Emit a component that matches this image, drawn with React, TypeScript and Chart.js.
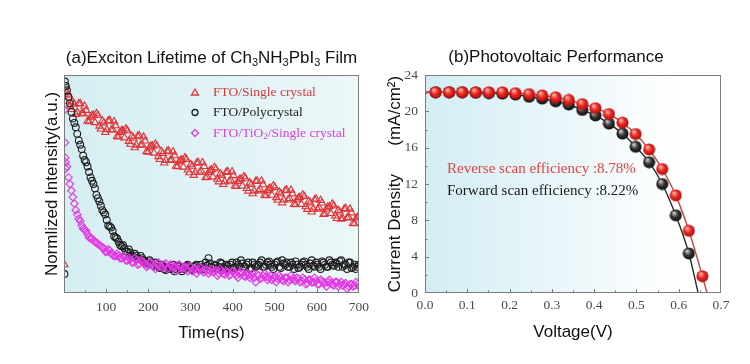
import React, { useEffect, useRef } from "react";
import { Chart, registerables } from "chart.js";

Chart.register(...registerables);

const SANS = "'Liberation Sans', Arial, sans-serif";
const SERIF = "'Liberation Serif', 'Times New Roman', serif";

// ---------- (a) exciton lifetime ----------
const TITLE_A = "(a)Exciton Lifetime of Ch_3NH_3PbI_3 Film";
const X_TITLE_A = "Time(ns)";
const Y_TITLE_A = "Normlized Intensity(a.u.)";
const LEGEND_A = ["FTO/Single crystal", "FTO/Polycrystal", "FTO/TiO_2/Single crystal"];

const TIME_NS = [
  7, 14, 21, 28, 35, 42, 49, 56, 63, 70, 77, 84, 91, 98, 105, 112, 119, 126, 133, 140,
  147, 154, 161, 168, 175, 182, 189, 196, 203, 210, 217, 224, 231, 238, 245, 252, 259, 266, 273, 280,
  287, 294, 301, 308, 315, 322, 329, 336, 343, 350, 357, 364, 371, 378, 385, 392, 399, 406, 413, 420,
  427, 434, 441, 448, 455, 462, 469, 476, 483, 490, 497, 504, 511, 518, 525, 532, 539, 546, 553, 560,
  567, 574, 581, 588, 595, 602, 609, 616, 623, 630, 637, 644, 651, 658, 665, 672, 679, 686, 693, 700,
];
const TIME_NS_MID = [
  3.5, 10.5, 17.5, 24.5, 31.5, 38.5, 45.5, 52.5, 59.5, 66.5,
  73.5, 80.5, 87.5, 94.5, 101.5, 108.5, 115.5, 122.5, 129.5, 136.5,
  143.5, 150.5, 157.5, 164.5, 171.5, 178.5, 185.5, 192.5, 199.5, 206.5,
  213.5, 220.5, 227.5, 234.5, 241.5, 248.5, 255.5, 262.5, 269.5, 276.5,
  283.5, 290.5, 297.5, 304.5, 311.5, 318.5, 325.5, 332.5, 339.5, 346.5,
  353.5, 360.5, 367.5, 374.5, 381.5, 388.5, 395.5, 402.5, 409.5, 416.5,
  423.5, 430.5, 437.5, 444.5, 451.5, 458.5, 465.5, 472.5, 479.5, 486.5,
  493.5, 500.5, 507.5, 514.5, 521.5, 528.5, 535.5, 542.5, 549.5, 556.5,
  563.5, 570.5, 577.5, 584.5, 591.5, 598.5, 605.5, 612.5, 619.5, 626.5,
  633.5, 640.5, 647.5, 654.5, 661.5, 668.5, 675.5, 682.5, 689.5, 696.5,
];

const SINGLE_CRYSTAL = [
  0.919, 0.858, 0.876, 0.82, 0.869, 0.823, 0.857, 0.789, 0.807, 0.815,
  0.823, 0.766, 0.789, 0.737, 0.79, 0.748, 0.786, 0.719, 0.737, 0.745,
  0.753, 0.696, 0.719, 0.667, 0.72, 0.678, 0.716, 0.649, 0.667, 0.675,
  0.683, 0.626, 0.649, 0.597, 0.65, 0.608, 0.648, 0.582, 0.602, 0.611,
  0.62, 0.565, 0.589, 0.54, 0.596, 0.553, 0.598, 0.529, 0.554, 0.565,
  0.576, 0.522, 0.547, 0.498, 0.554, 0.511, 0.556, 0.491, 0.512, 0.523,
  0.534, 0.48, 0.505, 0.456, 0.512, 0.469, 0.514, 0.449, 0.47, 0.481,
  0.492, 0.438, 0.463, 0.414, 0.47, 0.427, 0.472, 0.407, 0.428, 0.439,
  0.45, 0.396, 0.421, 0.372, 0.428, 0.385, 0.425, 0.361, 0.386, 0.397,
  0.408, 0.354, 0.379, 0.339, 0.385, 0.345, 0.385, 0.32, 0.34, 0.35,
];
const SINGLE_CRYSTAL_MID = [
  0.88, 0.909, 0.842, 0.866, 0.83, 0.869, 0.823, 0.838, 0.786, 0.814,
  0.782, 0.815, 0.753, 0.781, 0.749, 0.792, 0.75, 0.768, 0.716, 0.744,
  0.712, 0.745, 0.683, 0.711, 0.679, 0.722, 0.68, 0.698, 0.646, 0.674,
  0.642, 0.675, 0.613, 0.641, 0.609, 0.652, 0.611, 0.63, 0.58, 0.609,
  0.578, 0.613, 0.552, 0.582, 0.553, 0.599, 0.56, 0.581, 0.531, 0.562,
  0.533, 0.569, 0.51, 0.54, 0.511, 0.557, 0.518, 0.539, 0.489, 0.52,
  0.491, 0.527, 0.468, 0.498, 0.469, 0.515, 0.476, 0.497, 0.447, 0.478,
  0.449, 0.485, 0.426, 0.456, 0.427, 0.473, 0.434, 0.455, 0.405, 0.436,
  0.407, 0.443, 0.384, 0.414, 0.385, 0.431, 0.392, 0.413, 0.363, 0.394,
  0.365, 0.401, 0.342, 0.372, 0.342, 0.388, 0.348, 0.368, 0.318, 0.348,
];

const POLYCRYSTAL = [
  0.93, 0.87, 0.80, 0.76, 0.70, 0.66, 0.61, 0.58, 0.53, 0.50,
  0.45, 0.42, 0.38, 0.36, 0.31, 0.30, 0.26, 0.25, 0.22, 0.22,
  0.19, 0.20, 0.17, 0.18, 0.16, 0.17, 0.15, 0.14, 0.15, 0.13,
  0.14, 0.12, 0.13, 0.11, 0.12, 0.11, 0.13, 0.11, 0.12, 0.10,
  0.12, 0.13, 0.11, 0.12, 0.13, 0.11, 0.12, 0.14, 0.16, 0.12,
  0.13, 0.11, 0.14, 0.12, 0.13, 0.11, 0.14, 0.12, 0.13, 0.15,
  0.12, 0.13, 0.11, 0.14, 0.12, 0.13, 0.15, 0.12, 0.14, 0.13,
  0.11, 0.14, 0.12, 0.15, 0.13, 0.12, 0.14, 0.11, 0.13, 0.12,
  0.14, 0.13, 0.11, 0.15, 0.12, 0.13, 0.11, 0.14, 0.12, 0.15,
  0.13, 0.14, 0.12, 0.15, 0.13, 0.11, 0.14, 0.12, 0.11, 0.13,
];
const POLYCRYSTAL_MID = [
  0.95, 0.90, 0.83, 0.78, 0.73, 0.68, 0.63, 0.60, 0.555, 0.515,
  0.48, 0.435, 0.40, 0.37, 0.335, 0.305, 0.285, 0.255, 0.235, 0.215,
  0.205, 0.19, 0.185, 0.165, 0.17, 0.155, 0.16, 0.145, 0.135, 0.14,
  0.125, 0.13, 0.115, 0.12, 0.105, 0.12, 0.115, 0.10, 0.125, 0.11,
  0.11, 0.125, 0.12, 0.105, 0.125, 0.115, 0.13, 0.11, 0.125, 0.135,
  0.115, 0.125, 0.12, 0.135, 0.11, 0.125, 0.13, 0.115, 0.14, 0.12,
  0.135, 0.12, 0.14, 0.115, 0.13, 0.125, 0.14, 0.12, 0.13, 0.145,
  0.12, 0.13, 0.145, 0.115, 0.135, 0.14, 0.12, 0.13, 0.145, 0.115,
  0.13, 0.145, 0.12, 0.135, 0.125, 0.14, 0.12, 0.145, 0.13, 0.12,
  0.14, 0.125, 0.135, 0.145, 0.12, 0.13, 0.14, 0.115, 0.13, 0.12,
];

const TIO2_SINGLE = [
  0.58, 0.50, 0.44, 0.38, 0.34, 0.31, 0.29, 0.27, 0.25, 0.24,
  0.23, 0.22, 0.21, 0.19, 0.20, 0.18, 0.17, 0.18, 0.16, 0.17,
  0.15, 0.16, 0.14, 0.16, 0.13, 0.15, 0.14, 0.12, 0.14, 0.13,
  0.11, 0.14, 0.12, 0.13, 0.11, 0.13, 0.12, 0.10, 0.13, 0.11,
  0.12, 0.10, 0.12, 0.11, 0.09, 0.12, 0.10, 0.11, 0.09, 0.11,
  0.10, 0.08, 0.11, 0.09, 0.10, 0.08, 0.10, 0.09, 0.07, 0.10,
  0.08, 0.09, 0.07, 0.09, 0.05, 0.08, 0.07, 0.09, 0.06, 0.08,
  0.07, 0.05, 0.08, 0.06, 0.07, 0.05, 0.08, 0.06, 0.07, 0.05,
  0.07, 0.04, 0.06, 0.05, 0.07, 0.04, 0.06, 0.05, 0.03, 0.06,
  0.04, 0.05, 0.03, 0.05, 0.04, 0.02, 0.04, 0.03, 0.05, 0.03,
];
const TIO2_SINGLE_MID = [
  0.60, 0.53, 0.47, 0.41, 0.36, 0.33, 0.295, 0.285, 0.255, 0.25,
  0.235, 0.225, 0.215, 0.205, 0.19, 0.195, 0.175, 0.17, 0.17, 0.16,
  0.165, 0.15, 0.155, 0.14, 0.15, 0.135, 0.145, 0.135, 0.125, 0.14,
  0.12, 0.13, 0.125, 0.115, 0.135, 0.115, 0.125, 0.12, 0.11, 0.125,
  0.115, 0.11, 0.125, 0.10, 0.11, 0.105, 0.115, 0.095, 0.105, 0.10,
  0.095, 0.105, 0.09, 0.10, 0.085, 0.095, 0.085, 0.10, 0.08, 0.09,
  0.09, 0.075, 0.085, 0.08, 0.07, 0.085, 0.065, 0.08, 0.075, 0.07,
  0.06, 0.075, 0.065, 0.07, 0.055, 0.07, 0.06, 0.065, 0.055, 0.065,
  0.055, 0.06, 0.045, 0.06, 0.05, 0.055, 0.04, 0.055, 0.045, 0.05,
  0.045, 0.035, 0.05, 0.04, 0.035, 0.045, 0.03, 0.04, 0.035, 0.04,
];

// the first few readings just after excitation
const SINGLE_EARLY_T = [1, 3];
const SINGLE_EARLY = [0.13, 0.91];
const POLY_EARLY_T = [1, 2, 4];
const POLY_EARLY = [0.087, 0.97, 0.95];
const TIO2_EARLY_T = [1, 2, 3, 4];
const TIO2_EARLY = [0.84, 0.69, 0.62, 0.57];

// ---------- (b) photovoltaic J-V ----------
const TITLE_B = "(b)Photovoltaic Performance";
const X_TITLE_B = "Voltage(V)";
const Y_TITLE_B = "Current Density      (mA/cm\u00B2)";
const NOTES_B = ["Reverse scan efficiency :8.78%", "Forward scan efficiency :8.22%"];

const VOLTAGE = [
  0.025, 0.057, 0.088, 0.12, 0.151, 0.183, 0.214, 0.246, 0.277, 0.309, 0.34,
  0.372, 0.403, 0.435, 0.467, 0.498, 0.53, 0.561, 0.593, 0.624, 0.656,
];
const J_REVERSE = [
  22.1, 22.1, 22.1, 22.1, 22.1, 22.1, 22.0, 21.9, 21.75, 21.55, 21.25,
  20.8, 20.35, 19.7, 18.75, 17.5, 15.8, 13.65, 10.75, 6.85, 1.85,
];
const J_FORWARD = [
  22.1, 22.1, 22.1, 22.05, 22.0, 21.95, 21.85, 21.6, 21.4, 21.1, 20.75,
  20.15, 19.55, 18.65, 17.55, 16.1, 14.4, 12.0, 8.55, 4.35,
];
const JSC = 22.1;
const VOC_REVERSE = 0.667;
const VOC_FORWARD = 0.646;

// ---------- helpers ----------
type Seg = { t: string; sub: boolean };
function parseSegs(s: string): Seg[] {
  const out: Seg[] = [];
  const re = /_(\d)/g;
  let last = 0;
  let m: RegExpExecArray | null;
  while ((m = re.exec(s))) {
    if (m.index > last) out.push({ t: s.slice(last, m.index), sub: false });
    out.push({ t: m[1], sub: true });
    last = m.index + m[0].length;
  }
  if (last < s.length) out.push({ t: s.slice(last), sub: false });
  return out;
}

function drawRich(
  ctx: CanvasRenderingContext2D,
  text: string,
  x: number,
  y: number,
  size: number,
  family: string,
  color: string,
  align: "left" | "center"
) {
  const segs = parseSegs(text);
  const main = `${size}px ${family}`;
  const small = `${Math.round(size * 0.64)}px ${family}`;
  let total = 0;
  const widths = segs.map((s) => {
    ctx.font = s.sub ? small : main;
    const w = ctx.measureText(s.t).width;
    total += w;
    return w;
  });
  let cx = align === "center" ? x - total / 2 : x;
  ctx.textAlign = "left";
  ctx.textBaseline = "middle";
  ctx.fillStyle = color;
  segs.forEach((s, i) => {
    ctx.font = s.sub ? small : main;
    ctx.fillText(s.t, cx, s.sub ? y + size * 0.3 : y);
    cx += widths[i];
  });
}

function pts(xs: number[], ys: number[]) {
  return ys.map((y, i) => ({ x: xs[i], y }));
}

function drawFrame(chart: any, color: string) {
  const { ctx, chartArea: a } = chart;
  ctx.save();
  ctx.strokeStyle = color;
  ctx.lineWidth = 1;
  ctx.strokeRect(Math.round(a.left) + 0.5, Math.round(a.top) + 0.5, Math.round(a.width) - 1, Math.round(a.height) - 1);
  ctx.restore();
}

function innerTicks(chart: any, axis: "x" | "y", minor: number, major: number, len: number, minorLen: number) {
  const s = chart.scales[axis];
  const a = chart.chartArea;
  const ctx: CanvasRenderingContext2D = chart.ctx;
  ctx.save();
  ctx.strokeStyle = "#777";
  ctx.lineWidth = 1;
  ctx.beginPath();
  const n = Math.round((s.max - s.min) / minor);
  for (let i = 1; i < n; i++) {
    const v = s.min + i * minor;
    const r = v / major;
    const isMajor = Math.abs(r - Math.round(r)) < 1e-6;
    const L = isMajor ? len : minorLen;
    if (axis === "x") {
      const px = Math.round(s.getPixelForValue(v)) + 0.5;
      ctx.moveTo(px, a.bottom);
      ctx.lineTo(px, a.bottom - L);
    } else {
      const py = Math.round(s.getPixelForValue(v)) + 0.5;
      ctx.moveTo(a.left, py);
      ctx.lineTo(a.left + L, py);
    }
  }
  ctx.stroke();
  ctx.restore();
}

function makeSphere(light: string, mid: string, dark: string, d: number) {
  const c = document.createElement("canvas");
  c.width = d;
  c.height = d;
  const g = c.getContext("2d")!;
  const r = d / 2;
  const grad = g.createRadialGradient(r * 0.7, r * 0.6, r * 0.1, r, r, r);
  grad.addColorStop(0, light);
  grad.addColorStop(0.45, mid);
  grad.addColorStop(1, dark);
  g.fillStyle = grad;
  g.beginPath();
  g.arc(r, r, r - 0.5, 0, Math.PI * 2);
  g.fill();
  return c;
}

const tickFont = { family: SERIF, size: 13.5 };
const titleFont = { family: SANS, size: 17 };

function LifetimeChart() {
  const ref = useRef<HTMLCanvasElement>(null);
  useEffect(() => {
    const decor = {
      id: "decorA",
      beforeDraw(chart: any) {
        const { ctx, chartArea: a } = chart;
        ctx.save();
        const g = ctx.createLinearGradient(a.left, 0, a.right, 0);
        g.addColorStop(0, "#d5eef2");
        g.addColorStop(1, "#ecf7f8");
        ctx.fillStyle = g;
        ctx.fillRect(a.left, a.top, a.width, a.height);
        ctx.restore();
      },
      afterDatasetsDraw(chart: any) {
        drawFrame(chart, "#7d7d7d");
        innerTicks(chart, "x", 50, 100, 4, 2.5);
      },
      afterDraw(chart: any) {
        const ctx: CanvasRenderingContext2D = chart.ctx;
        ctx.save();
        drawRich(ctx, TITLE_A, 211.5, 58, 17, SANS, "#111", "center");
        const colors = ["#e0363a", "#222222", "#e23ce2"];
        const textColors = ["#d93a3a", "#222222", "#dc3fdc"];
        const rows = [92.5, 112.5, 133];
        const mx = 195;
        rows.forEach((y, i) => {
          ctx.strokeStyle = colors[i];
          ctx.lineWidth = 1.3;
          ctx.beginPath();
          if (i === 0) {
            ctx.moveTo(mx, y - 3.5);
            ctx.lineTo(mx + 3.5, y + 2.5);
            ctx.lineTo(mx - 3.5, y + 2.5);
            ctx.closePath();
          } else if (i === 1) {
            ctx.arc(mx, y, 3, 0, Math.PI * 2);
          } else {
            ctx.moveTo(mx, y - 3.5);
            ctx.lineTo(mx + 3.5, y);
            ctx.lineTo(mx, y + 3.5);
            ctx.lineTo(mx - 3.5, y);
            ctx.closePath();
          }
          ctx.stroke();
          drawRich(ctx, LEGEND_A[i], 213, y, 13.5, SERIF, textColors[i], "left");
        });
        ctx.restore();
      },
    };

    const hollow = "rgba(0,0,0,0)";
    const chart = new Chart(ref.current!, {
      type: "scatter",
      data: {
        datasets: [
          {
            label: LEGEND_A[2],
            data: [
              ...pts(TIO2_EARLY_T, TIO2_EARLY),
              ...pts(TIME_NS, TIO2_SINGLE),
              ...pts(TIME_NS_MID, TIO2_SINGLE_MID),
            ],
            pointStyle: "rectRot",
            pointRadius: 3.8,
            pointBorderWidth: 1.1,
            borderColor: "#e436e4",
            backgroundColor: hollow,
          },
          {
            label: LEGEND_A[1],
            data: [
              ...pts(POLY_EARLY_T, POLY_EARLY),
              ...pts(TIME_NS, POLYCRYSTAL),
              ...pts(TIME_NS_MID, POLYCRYSTAL_MID),
            ],
            pointStyle: "circle",
            pointRadius: 3.4,
            pointBorderWidth: 1.1,
            borderColor: "#1e1e1e",
            backgroundColor: hollow,
          },
          {
            label: LEGEND_A[0],
            data: [
              ...pts(SINGLE_EARLY_T, SINGLE_EARLY),
              ...pts(TIME_NS, SINGLE_CRYSTAL),
              ...pts(TIME_NS_MID, SINGLE_CRYSTAL_MID),
            ],
            pointStyle: "triangle",
            pointRadius: 4.2,
            pointBorderWidth: 1.1,
            borderColor: "#e23438",
            backgroundColor: hollow,
          },
        ],
      },
      options: {
        animation: false,
        responsive: false,
        devicePixelRatio: 1,
        layout: { padding: { top: 75, left: 41.8, right: 16, bottom: 10 } },
        plugins: { legend: { display: false }, tooltip: { enabled: false }, title: { display: false } },
        scales: {
          x: {
            type: "linear",
            min: 0,
            max: 700,
            grid: { display: false, drawTicks: false },
            border: { display: false },
            ticks: {
              stepSize: 100,
              padding: 6,
              color: "#4a4a4a",
              font: tickFont,
              maxRotation: 0,
              autoSkip: false,
              callback: (v: any) => (Number(v) === 0 ? "" : String(v)),
            },
            title: { display: true, text: X_TITLE_A, color: "#111", font: titleFont, padding: { top: 1.6, bottom: 10.8 } },
          },
          y: {
            type: "linear",
            min: 0,
            max: 1,
            grid: { display: false, drawTicks: false },
            border: { display: false },
            ticks: { display: false },
            title: { display: true, text: Y_TITLE_A, color: "#111", font: titleFont, padding: { top: 0, bottom: 1.8 } },
          },
        },
      },
      plugins: [decor],
    } as any);
    return () => chart.destroy();
  }, []);
  return (
    <canvas ref={ref} width={375} height={364} style={{ position: "absolute", left: 0, top: 0, width: 375, height: 364 }} />
  );
}

function JVChart() {
  const ref = useRef<HTMLCanvasElement>(null);
  useEffect(() => {
    const redBall = makeSphere("#ffb0a8", "#ee2a24", "#a50a08", 13);
    const blackBall = makeSphere("#c8c8c8", "#3a3a3a", "#050505", 13);
    const decor = {
      id: "decorB",
      beforeDraw(chart: any) {
        const { ctx, chartArea: a } = chart;
        ctx.save();
        const g = ctx.createLinearGradient(a.left, 0, a.right, 0);
        g.addColorStop(0, "#d3edf4");
        g.addColorStop(0.5, "#ecf7fa");
        g.addColorStop(0.85, "#ffffff");
        ctx.fillStyle = g;
        ctx.fillRect(a.left, a.top, a.width, a.height);
        ctx.restore();
      },
      afterDatasetsDraw(chart: any) {
        drawFrame(chart, "#7d7d7d");
        innerTicks(chart, "x", 0.05, 0.1, 4, 2.5);
        innerTicks(chart, "y", 2, 4, 4, 2.5);
      },
      afterDraw(chart: any) {
        const ctx: CanvasRenderingContext2D = chart.ctx;
        ctx.save();
        drawRich(ctx, TITLE_B, 181, 57.5, 17, SANS, "#111", "center");
        drawRich(ctx, NOTES_B[0], 72, 169, 15, SERIF, "#e24444", "left");
        drawRich(ctx, NOTES_B[1], 72, 191, 15, SERIF, "#1a1a1a", "left");
        ctx.restore();
      },
    };

    const revLine = [{ x: 0, y: JSC }, ...pts(VOLTAGE, J_REVERSE), { x: VOC_REVERSE, y: 0 }];
    const fwdLine = [{ x: 0, y: JSC }, ...pts(VOLTAGE, J_FORWARD), { x: VOC_FORWARD, y: 0 }];

    const chart = new Chart(ref.current!, {
      type: "line",
      data: {
        datasets: [
          { label: "Reverse", data: pts(VOLTAGE, J_REVERSE), showLine: false, pointStyle: redBall, pointRadius: 6.5 },
          {
            label: "Reverse fit",
            data: revLine,
            pointRadius: 0,
            borderColor: "#c44644",
            borderWidth: 1.4,
            cubicInterpolationMode: "monotone",
          },
          { label: "Forward", data: pts(VOLTAGE, J_FORWARD), showLine: false, pointStyle: blackBall, pointRadius: 6.5 },
          {
            label: "Forward fit",
            data: fwdLine,
            pointRadius: 0,
            borderColor: "#2a2a2a",
            borderWidth: 1.4,
            cubicInterpolationMode: "monotone",
          },
        ],
      },
      options: {
        animation: false,
        responsive: false,
        devicePixelRatio: 1,
        layout: { padding: { top: 75, left: 1, right: 29, bottom: 10 } },
        plugins: { legend: { display: false }, tooltip: { enabled: false }, title: { display: false } },
        scales: {
          x: {
            type: "linear",
            min: 0,
            max: 0.7,
            grid: { display: false, drawTicks: false },
            border: { display: false },
            ticks: {
              stepSize: 0.1,
              padding: 4,
              color: "#4a4a4a",
              font: tickFont,
              maxRotation: 0,
              autoSkip: false,
              callback: (v: any) => Number(v).toFixed(1),
            },
            title: { display: true, text: X_TITLE_B, color: "#111", font: titleFont, padding: { top: 5.1, bottom: 11.3 } },
          },
          y: {
            type: "linear",
            min: 0,
            max: 24,
            grid: { display: false, drawTicks: false },
            border: { display: false },
            ticks: { stepSize: 4, padding: 7, color: "#4a4a4a", font: tickFont },
            title: { display: true, text: Y_TITLE_B, color: "#111", font: titleFont, padding: { top: 8.8, bottom: -7.7 } },
          },
        },
      },
      plugins: [decor],
    } as any);
    return () => chart.destroy();
  }, []);
  return (
    <canvas ref={ref} width={375} height={364} style={{ position: "absolute", left: 375, top: 0, width: 375, height: 364 }} />
  );
}

export default function App() {
  return (
    <div style={{ position: "absolute", left: 0, top: 0, width: 750, height: 364, background: "#fff" }}>
      <LifetimeChart />
      <JVChart />
    </div>
  );
}
